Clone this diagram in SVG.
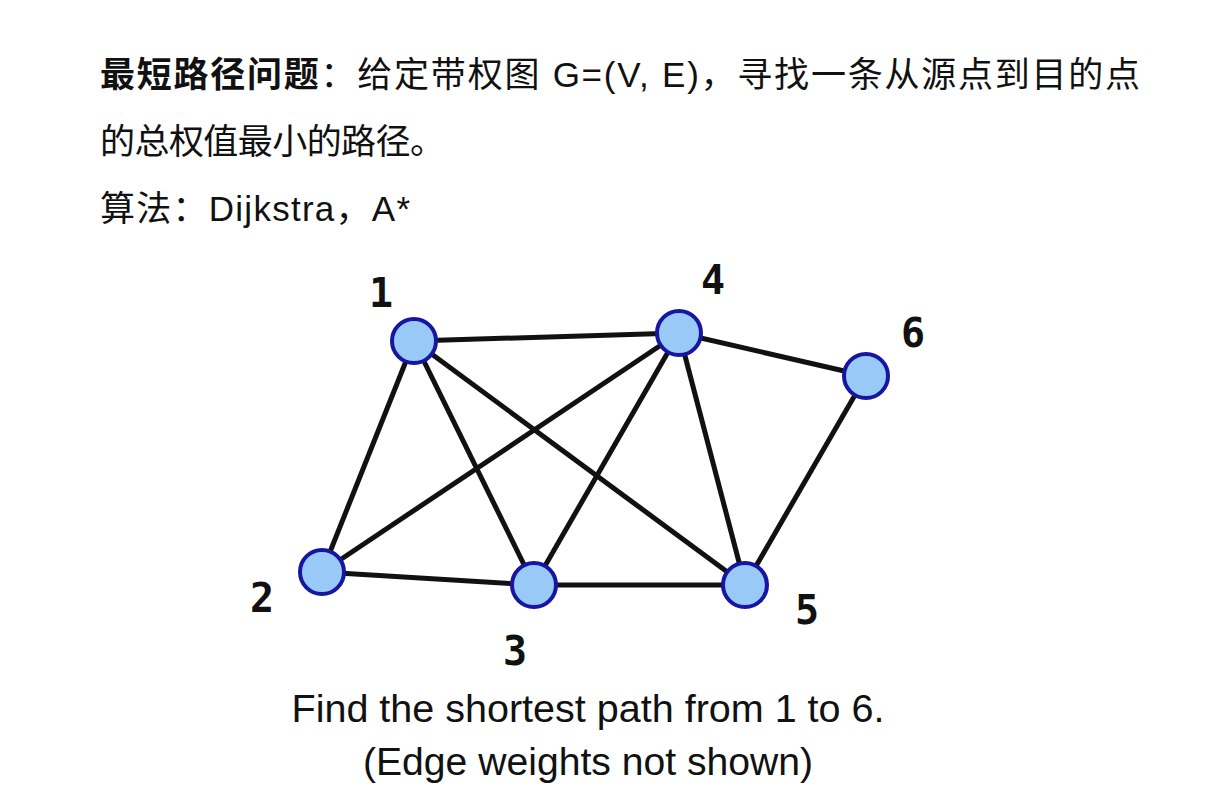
<svg xmlns="http://www.w3.org/2000/svg" width="1228" height="794" viewBox="0 0 1228 794">
<style>
.t{font-family:"Liberation Sans","Noto Sans CJK SC",sans-serif;font-size:35px;fill:#111}
.c{font-family:"Liberation Sans",sans-serif;font-size:38px;fill:#111;text-anchor:middle}
.n{fill:#99c9f7;stroke:#1616a0;stroke-width:4}
.l{font-family:"DejaVu Sans Mono","Liberation Mono",monospace;font-weight:bold;font-size:40px;fill:#111;text-anchor:middle}
.e line{stroke:#111;stroke-width:5}
</style>
<rect width="1228" height="794" fill="#fff"/>
<text class="t" x="100" y="87" textLength="1040" lengthAdjust="spacing"><tspan font-weight="bold">最短路径问题</tspan>：给定带权图 G=(V, E)，寻找一条从源点到目的点</text>
<text class="t" x="100" y="154" textLength="345" lengthAdjust="spacing">的总权值最小的路径。</text>
<text class="t" x="100" y="221" textLength="310" lengthAdjust="spacing">算法：Dijkstra，A*</text>
<g class="e" id="edges">
<line x1="414" y1="341" x2="679" y2="333"/>
<line x1="414" y1="341" x2="322" y2="572"/>
<line x1="414" y1="341" x2="534" y2="585"/>
<line x1="414" y1="341" x2="745" y2="585"/>
<line x1="679" y1="333" x2="322" y2="572"/>
<line x1="679" y1="333" x2="534" y2="585"/>
<line x1="679" y1="333" x2="745" y2="585"/>
<line x1="679" y1="333" x2="866" y2="376"/>
<line x1="322" y1="572" x2="534" y2="585"/>
<line x1="534" y1="585" x2="745" y2="585"/>
<line x1="745" y1="585" x2="866" y2="376"/>
</g>
<g id="n1"><circle class="n" cx="414" cy="341" r="22"/><text class="l" x="381" y="307">1</text></g>
<g id="n4"><circle class="n" cx="679" cy="333" r="22"/><text class="l" x="713" y="294">4</text></g>
<g id="n6"><circle class="n" cx="866" cy="376" r="22"/><text class="l" x="913" y="347">6</text></g>
<g id="n2"><circle class="n" cx="322" cy="572" r="22"/><text class="l" x="262" y="612">2</text></g>
<g id="n3"><circle class="n" cx="534" cy="585" r="22"/><text class="l" x="515" y="665">3</text></g>
<g id="n5"><circle class="n" cx="745" cy="585" r="22"/><text class="l" x="807" y="624">5</text></g>
<text class="c" x="588" y="722" textLength="593" lengthAdjust="spacingAndGlyphs">Find the shortest path from 1 to 6.</text>
<text class="c" x="588" y="775" textLength="450" lengthAdjust="spacingAndGlyphs">(Edge weights not shown)</text>
</svg>
